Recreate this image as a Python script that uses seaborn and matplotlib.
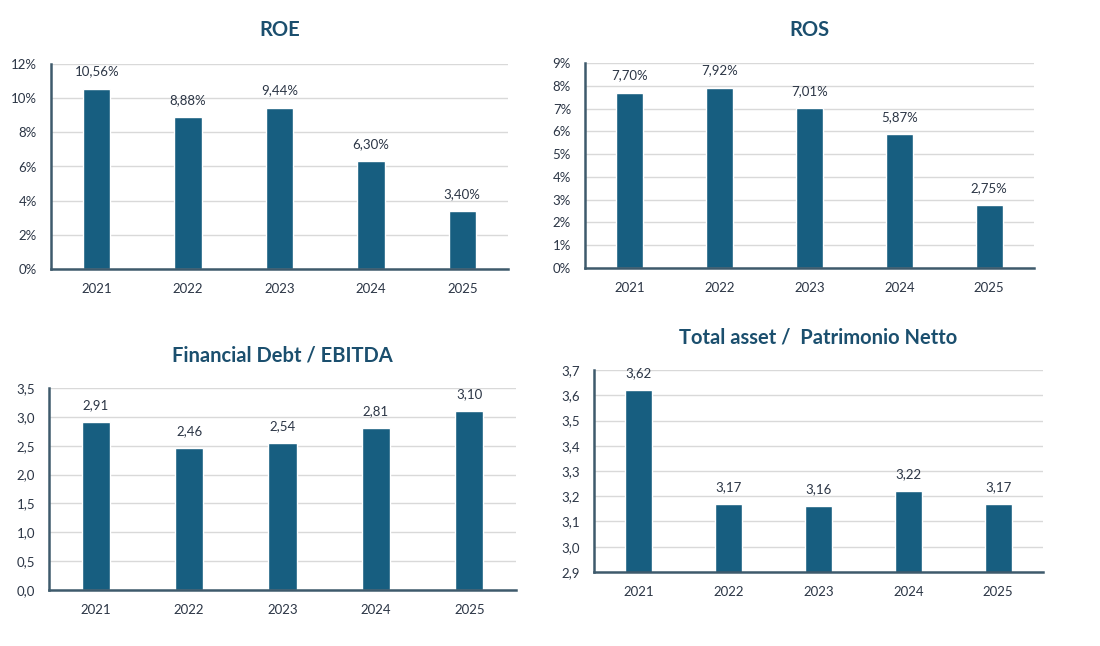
import matplotlib
matplotlib.use("Agg")
import matplotlib.pyplot as plt
import seaborn as sns
import pandas as pd
from matplotlib.ticker import FuncFormatter, MultipleLocator

# dati
anni = ["2021", "2022", "2023", "2024", "2025"]
roe = [10.56, 8.88, 9.44, 6.30, 3.40]
ros = [7.70, 7.92, 7.01, 5.87, 2.75]
debt_ebitda = [2.91, 2.46, 2.54, 2.81, 3.10]
asset_pn = [3.62, 3.17, 3.16, 3.22, 3.17]

sns.set_theme(style="white")
plt.rcParams["font.family"] = ["Lato", "DejaVu Sans"]

BAR = "#175E80"
TITOLO = "#1B4F6E"
TESTO = "#2B3545"
ASSE = "#3E5A6C"
GRIGLIA = "#D9D9D9"

fig = plt.figure(figsize=(11, 6.46), dpi=100)
W, H = 1100, 646


def box(l, t, r, b):
    return [l / W, 1 - b / H, (r - l) / W, (b - t) / H]


def it(v, dec):
    return f"{v:.{dec}f}".replace(".", ",")


def grafico(rect, valori, titolo, ylim, passo, fmt_tick, fmt_lab, title_y):
    ax = fig.add_axes(box(*rect))
    df = pd.DataFrame({"anno": anni, "valore": valori})
    sns.barplot(data=df, x="anno", y="valore", color=BAR, width=0.3,
                saturation=1, ax=ax)
    ax.set_ylim(*ylim)
    ax.set_xlim(-0.5, 4.5)
    ax.yaxis.set_major_locator(MultipleLocator(passo))
    ax.yaxis.set_major_formatter(FuncFormatter(fmt_tick))
    ax.grid(axis="y", color=GRIGLIA, linewidth=1)
    ax.set_axisbelow(True)
    for s in ["top", "right"]:
        ax.spines[s].set_visible(False)
    for s in ["left", "bottom"]:
        ax.spines[s].set_color(ASSE)
        ax.spines[s].set_linewidth(1.8)
    ax.tick_params(axis="both", length=0, labelsize=9.5, colors=TESTO)
    ax.tick_params(axis="x", pad=10)
    ax.tick_params(axis="y", pad=10)
    ax.set_xlabel("")
    ax.set_ylabel("")
    ax.bar_label(ax.containers[0], labels=[fmt_lab(v) for v in valori],
                 padding=8, fontsize=9.5, color=TESTO)
    l, t, r, b = rect
    fig.text(((l + r) / 2) / W, 1 - title_y / H, titolo, ha="center", va="center",
             fontsize=14.5, fontweight="bold", color=TITOLO)
    return ax


grafico((51, 64, 508, 269), roe, "ROE", (0, 12), 2,
        lambda v, p: f"{v:.0f}%", lambda v: it(v, 2) + "%", 30)
grafico((585, 63, 1034, 268), ros, "ROS", (0, 9), 1,
        lambda v, p: f"{v:.0f}%", lambda v: it(v, 2) + "%", 30)
grafico((49, 388, 516, 590), debt_ebitda, "Financial Debt / EBITDA", (0, 3.5), 0.5,
        lambda v, p: it(v, 1), lambda v: it(v, 2), 355)
grafico((594, 370, 1043, 572), asset_pn, "Total asset /  Patrimonio Netto", (2.9, 3.7), 0.1,
        lambda v, p: it(v, 1), lambda v: it(v, 2), 337)

fig.savefig("out.png", dpi=100)
